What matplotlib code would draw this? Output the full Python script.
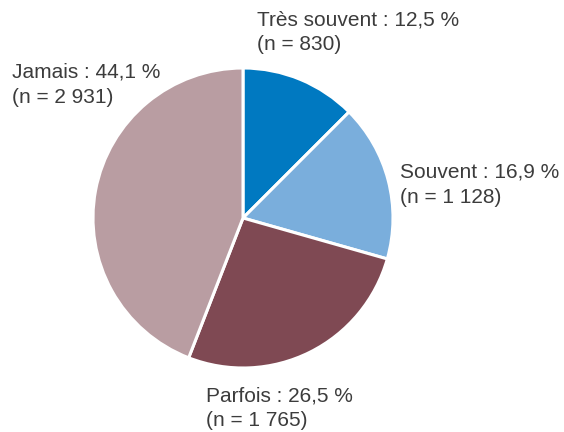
import matplotlib
matplotlib.use("Agg")
import matplotlib.pyplot as plt

categories = ["Très souvent", "Souvent", "Parfois", "Jamais"]
percents = [12.5, 16.9, 26.5, 44.1]
counts = ["830", "1 128", "1 765", "2 931"]
colors = ["#0079c1", "#7aaedc", "#7f4953", "#b99da2"]

W, H = 564, 432
fig = plt.figure(figsize=(W / 100, H / 100), dpi=100)
cx, cy, r = 243, 218, 150
ax = fig.add_axes([(cx - r) / W, (H - cy - r) / H, 2 * r / W, 2 * r / H])
ax.pie(percents, colors=colors, startangle=90, counterclock=False,
       radius=1, wedgeprops=dict(edgecolor="white", linewidth=2.2))
ax.set_xlim(-1, 1)
ax.set_ylim(-1, 1)
ax.set_aspect("equal")
ax.axis("off")

label_pos = [(257, 10), (400, 163), (206, 386), (12, 63)]
for cat, p, n, (x, y) in zip(categories, percents, counts, label_pos):
    txt = f"{cat} : {str(p).replace('.', ',')} %\n(n = {n})"
    fig.text(x / W, 1 - y / H, txt, ha="left", va="top", fontsize=15,
             family="Liberation Sans", color="#3c3c3c", linespacing=1.4)

fig.savefig("out.png", dpi=100)
